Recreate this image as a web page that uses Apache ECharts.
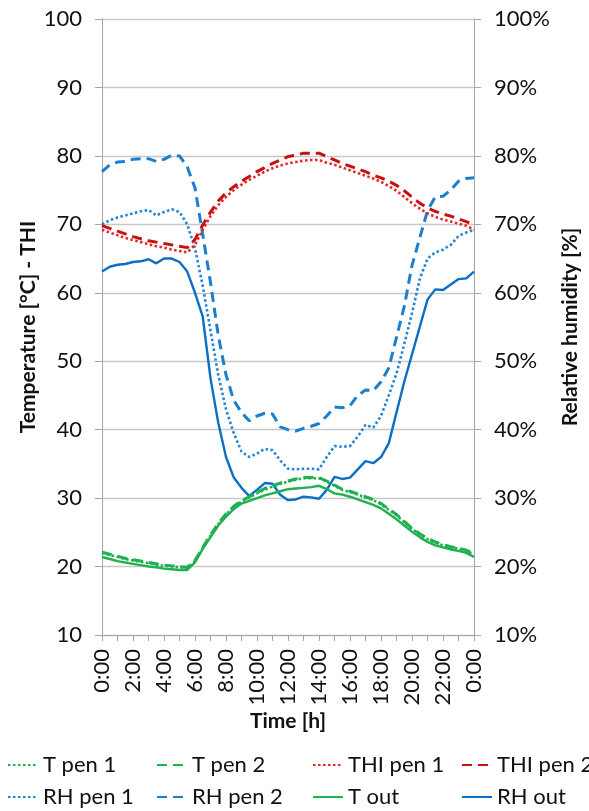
<!DOCTYPE html>
<html>
<head>
<meta charset="utf-8">
<script src="https://cdn.jsdelivr.net/npm/echarts@6/dist/echarts.min.js"></script>
<style>
html,body{margin:0;padding:0;background:#fff;}
#c{width:589px;height:811px;}
</style>
</head>
<body>
<div id="c"></div>
<script>
const times = ["0:00","0:30","1:00","1:30","2:00","2:30","3:00","3:30","4:00","4:30","5:00","5:30",
"6:00","6:30","7:00","7:30","8:00","8:30","9:00","9:30","10:00","10:30","11:00","11:30",
"12:00","12:30","13:00","13:30","14:00","14:30","15:00","15:30","16:00","16:30","17:00","17:30",
"18:00","18:30","19:00","19:30","20:00","20:30","21:00","21:30","22:00","22:30","23:00","23:30","0:00"];

const tPen1 = [22.0,21.7,21.4,21.1,20.9,20.7,20.5,20.3,20.1,20.0,19.9,19.8,
20.8,22.7,24.5,26.2,27.6,28.7,29.5,30.1,30.7,31.2,31.7,32.1,
32.4,32.7,32.9,32.9,32.9,32.4,31.8,31.2,30.9,30.5,30.1,29.7,
29.1,28.3,27.5,26.5,25.5,24.7,24.0,23.5,23.1,22.8,22.6,22.3,21.8];
const tPen2 = [22.1,21.8,21.5,21.2,21.0,20.8,20.6,20.4,20.2,20.1,20.0,19.9,
20.9,22.8,24.6,26.3,27.7,28.8,29.6,30.2,30.8,31.4,31.8,32.2,
32.5,32.8,33.0,33.0,33.0,32.5,31.9,31.3,31.0,30.6,30.2,29.8,
29.2,28.4,27.6,26.6,25.6,24.8,24.1,23.6,23.2,22.9,22.7,22.4,21.9];
const thiPen1 = [69.2,68.8,68.4,68.0,67.7,67.4,67.1,66.8,66.6,66.3,66.1,65.9,
67.0,69.2,71.2,72.8,74.0,75.0,75.8,76.5,77.1,77.7,78.2,78.6,
78.9,79.1,79.3,79.4,79.4,79.0,78.7,78.3,77.9,77.5,77.1,76.7,
76.2,75.6,74.9,74.0,73.1,72.3,71.6,71.1,70.7,70.4,70.1,69.8,69.2];
const thiPen2 = [69.8,69.4,69.0,68.6,68.2,67.9,67.6,67.4,67.2,67.0,66.8,66.6,
67.8,69.9,71.8,73.4,74.6,75.5,76.3,77.0,77.7,78.3,78.9,79.4,
79.9,80.1,80.4,80.4,80.4,79.9,79.4,78.9,78.5,78.1,77.7,77.2,
76.8,76.3,75.7,74.9,74.0,73.1,72.4,71.9,71.5,71.2,70.8,70.4,69.9];
const rhPen1 = [70.0,70.6,71.0,71.3,71.6,71.9,72.1,71.3,71.8,72.2,71.8,70.0,
66.5,61.0,54.5,48.0,43.0,39.5,36.8,36.0,36.5,37.2,37.0,35.5,
34.3,34.2,34.3,34.3,34.2,36.0,37.6,37.5,37.6,39.0,40.7,40.3,
42.0,45.0,48.2,52.5,57.0,62.0,65.0,65.9,66.3,67.0,68.3,68.8,69.2];
const rhPen2 = [77.7,78.7,79.1,79.2,79.5,79.6,79.6,79.2,79.5,80.1,80.0,78.4,
75.3,68.5,61.5,53.8,48.0,44.3,42.5,41.3,42.0,42.4,42.3,40.4,
40.0,39.8,40.2,40.5,40.9,42.0,43.3,43.2,43.5,45.0,45.8,45.7,
47.0,49.0,53.5,58.0,64.0,68.0,72.0,74.0,74.1,75.0,76.3,76.7,76.8];
const tOut = [21.4,21.1,20.8,20.6,20.4,20.2,20.0,19.9,19.7,19.6,19.5,19.5,
20.6,22.6,24.3,26.0,27.3,28.4,29.2,29.6,30.0,30.4,30.7,31.0,
31.3,31.4,31.5,31.6,31.8,31.3,30.7,30.5,30.2,29.8,29.4,29.0,
28.5,27.7,26.9,26.0,25.1,24.3,23.6,23.1,22.8,22.5,22.3,22.0,21.4];
const rhOut = [63.1,63.8,64.1,64.2,64.5,64.6,64.9,64.3,65.0,65.0,64.5,63.1,
60.0,56.5,47.5,41.0,36.0,33.0,31.5,30.3,31.2,32.2,32.1,30.5,
29.7,29.8,30.2,30.1,29.9,31.2,33.1,32.8,33.0,34.2,35.4,35.1,
36.0,38.0,42.5,47.0,51.0,55.0,59.0,60.5,60.4,61.2,62.0,62.1,63.1];

const FONT = 'Lato';
const GREEN = '#1fb04f', RED1 = '#e8262a', RED2 = '#c81010', BLUE1 = '#2384d6', BLUE2 = '#1a7fd0', BLUE3 = '#0b6fc4';
const DOT = [2.5,2.5], DASH = [10,6];

function mk(name, data, color, type, width, yi) {
  return {
    name, type: 'line', data, yAxisIndex: yi, symbol: 'none', smooth: false,
    lineStyle: { color, width, type, cap: 'butt' }, itemStyle: { color },
    emphasis: { disabled: true }, animation: false
  };
}

const series = [
  mk('RH out', rhOut, BLUE3, 'solid', 2.4, 1),
  mk('RH pen 1', rhPen1, BLUE1, DOT, 2.6, 1),
  mk('RH pen 2', rhPen2, BLUE2, DASH, 3, 1),
  mk('THI pen 1', thiPen1, RED1, DOT, 2.6, 0),
  mk('THI pen 2', thiPen2, RED2, DASH, 3, 0),
  mk('T out', tOut, GREEN, 'solid', 2.4, 0),
  mk('T pen 1', tPen1, GREEN, DOT, 2.6, 0),
  mk('T pen 2', tPen2, GREEN, DASH, 3, 0)
];

const legendPos = [
  ['T pen 1', 7, 754], ['T pen 2', 156, 754], ['THI pen 1', 312, 754], ['THI pen 2', 461, 754],
  ['RH pen 1', 7, 786], ['RH pen 2', 156, 786], ['T out', 312, 786], ['RH out', 461, 786]
];
const legends = legendPos.map(([n, l, t]) => ({
  data: [n], left: l, top: t, padding: 0, itemWidth: 30, itemHeight: 12, itemGap: 0,
  selectedMode: false,
  itemStyle: { opacity: 0 },
  textStyle: { fontFamily: FONT, fontSize: 22, color: '#111' }
}));

const axisLabelStyle = { fontFamily: FONT, fontSize: 22, color: '#111' };
const nameStyle = { fontFamily: FONT, fontSize: 21, fontWeight: 'bold', color: '#111' };
const gray = '#a6a6a6';

const chart = echarts.init(document.getElementById('c'), null, { renderer: 'canvas' });
chart.setOption({
  animation: false,
  backgroundColor: '#fff',
  grid: { left: 102, right: 113, top: 19, bottom: 176, containLabel: false },
  legend: legends,
  xAxis: {
    type: 'category', data: times, boundaryGap: false,
    name: 'Time [h]', nameLocation: 'middle', nameGap: 76, nameMoveOverlap: false, nameTextStyle: nameStyle,
    axisLine: { lineStyle: { color: gray, width: 1 } },
    axisTick: { show: true, interval: 1, length: 6, inside: false, lineStyle: { color: gray } },
    axisLabel: { interval: 3, rotate: 90, margin: 14, ...axisLabelStyle },
    splitLine: { show: false }
  },
  yAxis: [
    {
      type: 'value', min: 10, max: 100, interval: 10, position: 'left',
      name: 'Temperature [°C] - THI', nameLocation: 'middle', nameRotate: 90, nameGap: 63, nameMoveOverlap: false,
      nameTextStyle: nameStyle,
      axisLine: { show: true, lineStyle: { color: gray } },
      axisTick: { show: true, length: 7, lineStyle: { color: gray } },
      axisLabel: { margin: 20, ...axisLabelStyle },
      splitLine: { show: true, lineStyle: { color: '#c8c8c8', width: 1.3 } }
    },
    {
      type: 'value', min: 10, max: 100, interval: 10, position: 'right',
      name: 'Relative humidity [%]', nameLocation: 'middle', nameRotate: 90, nameGap: 86, nameMoveOverlap: false,
      nameTextStyle: nameStyle,
      axisLine: { show: true, lineStyle: { color: gray } },
      axisTick: { show: true, length: 7, lineStyle: { color: gray } },
      axisLabel: { margin: 20, formatter: '{value}%', ...axisLabelStyle },
      splitLine: { show: false }
    }
  ],
  series
});
</script>
</body>
</html>
